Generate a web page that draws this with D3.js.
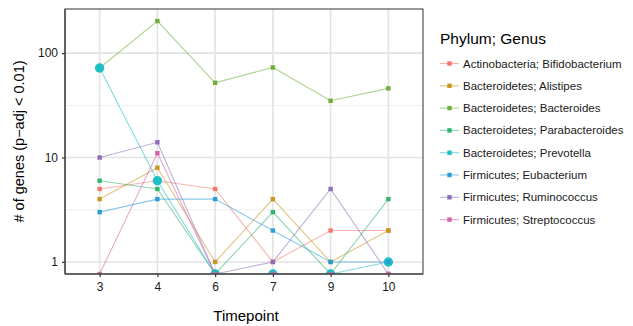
<!DOCTYPE html>
<html>
<head>
<meta charset="utf-8">
<script src="https://cdn.jsdelivr.net/npm/d3@7"></script>
<style>
  body { margin: 0; background: #fff; }
  svg { font-family: "Liberation Sans", Arial, sans-serif; }
</style>
</head>
<body>
<div id="chart"></div>
<script>
const width = 633;
const height = 326;
const margin = { top: 9, right: 210, bottom: 52, left: 65 };

// data (0 = none found, drawn at the lower edge)
const timepoints = ["3", "4", "6", "7", "9", "10"];
const genera = [
    "Actinobacteria; Bifidobacterium",
    "Bacteroidetes; Alistipes",
    "Bacteroidetes; Bacteroides",
    "Bacteroidetes; Parabacteroides",
    "Bacteroidetes; Prevotella",
    "Firmicutes; Eubacterium",
    "Firmicutes; Ruminococcus",
    "Firmicutes; Streptococcus"
];
const bifidobacterium = [5, 6, 5, 1, 2, 2];
const alistipes = [4, 8, 1, 4, 1, 2];
const bacteroides = [72, 203, 52, 73, 35, 46];
const parabacteroides = [6, 5, 0, 3, 0, 4];
const prevotella = [72, 6, 0, 0, 0, 1];
const eubacterium = [3, 4, 4, 2, 1, 1];
const ruminococcus = [10, 14, 0, 1, 5, 0];
const streptococcus = [0, 11, 0, 0, 0, 0];
const yTicks = [1, 10, 100];
const colors = ["#F4766C", "#C9961F", "#70AE3B", "#31B46E", "#1DBEC4", "#2E9BD8", "#8D6EB6", "#D463A9"];

const seriesValues = [bifidobacterium, alistipes, bacteroides, parabacteroides,
    prevotella, eubacterium, ruminococcus, streptococcus];
const series = genera.map((g, i) => ({
    name: g,
    color: colors[i],
    big: g === "Bacteroidetes; Prevotella",
    values: timepoints.map((t, j) => ({ t: t, v: seriesValues[i][j] }))
}));

const svg = d3.select("#chart")
    .append("svg")
    .attr("width", width)
    .attr("height", height);

const x0 = margin.left, x1 = width - margin.right;
const y0 = height - margin.bottom, y1 = margin.top;

const x = d3.scalePoint().domain(timepoints).range([x0, x1]).padding(0.6);

// ggplot-like 5% expansion on log scale
const allPos = seriesValues.flat().filter(v => v > 0);
const lmin = Math.log10(d3.min(allPos)), lmax = Math.log10(d3.max(allPos));
const ex = (lmax - lmin) * 0.05;
const y = d3.scaleLog().domain([10 ** (lmin - ex), 10 ** (lmax + ex)]).range([y0, y1]);
const yv = v => v > 0 ? y(v) : y0;

svg.append("defs").append("clipPath").attr("id", "panel")
    .append("rect").attr("x", x0).attr("y", y1).attr("width", x1 - x0).attr("height", y0 - y1);

// grid
const grid = svg.append("g");
const minor = [10 ** 0.5, 10 ** 1.5];
grid.selectAll(".minor").data(minor).enter().append("line")
    .attr("x1", x0).attr("x2", x1)
    .attr("y1", d => y(d)).attr("y2", d => y(d))
    .attr("stroke", "#ebebeb").attr("stroke-width", 0.8);
grid.selectAll(".majory").data(yTicks).enter().append("line")
    .attr("x1", x0).attr("x2", x1)
    .attr("y1", d => y(d)).attr("y2", d => y(d))
    .attr("stroke", "#e3e3e3").attr("stroke-width", 1.6);
grid.selectAll(".majorx").data(timepoints).enter().append("line")
    .attr("x1", d => x(d)).attr("x2", d => x(d))
    .attr("y1", y1).attr("y2", y0)
    .attr("stroke", "#e3e3e3").attr("stroke-width", 1.6);

const plot = svg.append("g").attr("clip-path", "url(#panel)");

const line = d3.line().x(d => x(d.t)).y(d => yv(d.v));

plot.selectAll(".line")
    .data(series)
    .enter().append("path")
    .attr("d", d => line(d.values))
    .attr("fill", "none")
    .attr("stroke", d => d.color)
    .attr("stroke-opacity", 0.55)
    .attr("stroke-width", 1.1);

series.forEach(s => {
    if (s.big) {
        plot.selectAll(null).data(s.values).enter().append("circle")
            .attr("cx", d => x(d.t)).attr("cy", d => yv(d.v))
            .attr("r", 4.7).attr("fill", s.color);
    } else {
        plot.selectAll(null).data(s.values).enter().append("rect")
            .attr("x", d => x(d.t) - 2.2).attr("y", d => yv(d.v) - 2.2)
            .attr("width", 4.4).attr("height", 4.4).attr("fill", s.color);
    }
});

// panel border
svg.append("rect")
    .attr("x", x0).attr("y", y1).attr("width", x1 - x0).attr("height", y0 - y1)
    .attr("fill", "none").attr("stroke", "#333").attr("stroke-width", 1);
svg.append("line").attr("x1", x0).attr("x2", x0).attr("y1", y1).attr("y2", y0)
    .attr("stroke", "#555").attr("stroke-width", 1.6);
svg.append("line").attr("x1", x0).attr("x2", x1).attr("y1", y0).attr("y2", y0)
    .attr("stroke", "#555").attr("stroke-width", 1.6);

// axes
const xAxis = svg.append("g")
    .attr("transform", `translate(0,${y0})`)
    .call(d3.axisBottom(x).tickSize(3).tickPadding(5));
xAxis.select(".domain").remove();
xAxis.selectAll("line").attr("stroke", "#333").attr("stroke-width", 1.2);
xAxis.selectAll("text").attr("fill", "#1a1a1a").style("font-size", "12px");

const yAxis = svg.append("g")
    .attr("transform", `translate(${x0},0)`)
    .call(d3.axisLeft(y).tickValues(yTicks).tickFormat(d3.format("d")).tickSize(3).tickPadding(4));
yAxis.select(".domain").remove();
yAxis.selectAll("line").attr("stroke", "#333").attr("stroke-width", 1.2);
yAxis.selectAll("text").attr("fill", "#1a1a1a").style("font-size", "12px");

svg.append("text")
    .attr("x", (x0 + x1) / 2 + 2).attr("y", 321)
    .attr("text-anchor", "middle")
    .style("font-size", "15px").attr("fill", "#000")
    .text("Timepoint");

svg.append("text")
    .attr("transform", `translate(24,${(y0 + y1) / 2}) rotate(-90)`)
    .attr("text-anchor", "middle")
    .style("font-size", "14.5px").attr("fill", "#000")
    .text("# of genes (p\u2212adj < 0.01)");

// legend
const legend = svg.append("g").attr("transform", "translate(440,0)");
legend.append("text")
    .attr("x", 0).attr("y", 44)
    .style("font-size", "15.5px").attr("fill", "#000")
    .text("Phylum; Genus");

const item = legend.selectAll(".legend-item")
    .data(series)
    .enter().append("g")
    .attr("class", "legend-item")
    .attr("transform", (d, i) => `translate(0,${63.5 + i * 22.3})`);
item.append("line")
    .attr("x1", 0).attr("x2", 19)
    .attr("stroke", d => d.color).attr("stroke-opacity", 0.55).attr("stroke-width", 1.1);
item.append("rect")
    .attr("x", 7.3).attr("y", -2.2).attr("width", 4.4).attr("height", 4.4)
    .attr("fill", d => d.color);
item.append("text")
    .attr("x", 23).attr("y", 0).attr("dy", "0.35em")
    .style("font-size", "11.5px").attr("fill", "#1a1a1a")
    .text(d => d.name);
</script>
</body>
</html>
